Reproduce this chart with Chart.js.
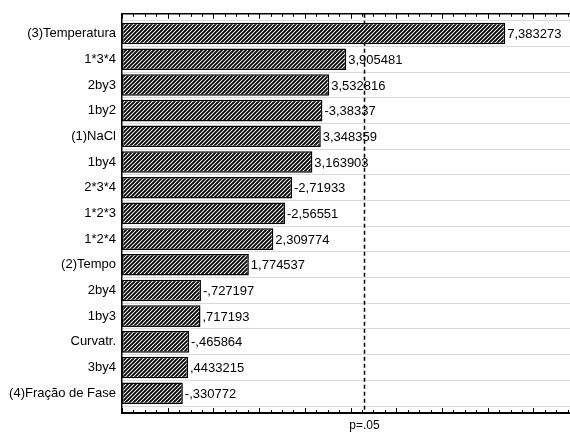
<!DOCTYPE html>
<html>
<head>
<meta charset="utf-8">
<script src="https://cdn.jsdelivr.net/npm/chart.js@4"></script>
<style>
  html, body { margin: 0; background: #fff; }
  #wrap { width: 570px; height: 433px; position: relative; }
</style>
</head>
<body>
<div id="wrap"><canvas id="chart"></canvas></div>
<script>
// data
const factors = ["(3)Temperatura", "1*3*4", "2by3", "1by2", "(1)NaCl", "1by4", "2*3*4",
  "1*2*3", "1*2*4", "(2)Tempo", "2by4", "1by3", "Curvatr.", "3by4", "(4)Fração de Fase"];
const effects = [7.383273, 3.905481, 3.532816, -3.38337, 3.348359, 3.163903, -2.71933,
  -2.56551, 2.309774, 1.774537, -0.727197, 0.717193, -0.465864, 0.4433215, -0.330772];
const effectLabels = ["7,383273", "3,905481", "3,532816", "-3,38337", "3,348359", "3,163903", "-2,71933",
  "-2,56551", "2,309774", "1,774537", "-,727197", ",717193", "-,465864", ",4433215", "-,330772"];
const pCritical = 4.303;
const pLabel = "p=.05";

const FONT = "'Liberation Sans', Arial, sans-serif";
const canvas = document.getElementById("chart");

// diagonal hatch like the statistica bars
function makeHatch() {
  const c = document.createElement("canvas");
  c.width = c.height = 4;
  const g = c.getContext("2d");
  g.fillStyle = "#fff";
  g.fillRect(0, 0, 4, 4);
  g.strokeStyle = "#000";
  g.lineWidth = 1.9;
  g.beginPath();
  g.moveTo(0, 4); g.lineTo(4, 0);
  g.moveTo(-1, 1); g.lineTo(1, -1);
  g.moveTo(3, 5); g.lineTo(5, 3);
  g.stroke();
  return canvas.getContext("2d").createPattern(c, "repeat");
}

const paretoExtras = {
  id: "paretoExtras",
  beforeDatasetsDraw(chart) {
    const { ctx, chartArea: a, scales: { x } } = chart;
    const meta = chart.getDatasetMeta(0);
    ctx.save();
    ctx.font = "13px " + FONT;
    ctx.textBaseline = "middle";
    ctx.textAlign = "left";
    meta.data.forEach((bar, i) => {
      const t = effectLabels[i];
      const w = ctx.measureText(t).width;
      ctx.fillStyle = "#fff";
      ctx.fillRect(bar.x + 1, bar.y - 7, w + 2, 14);
      ctx.fillStyle = "#000";
      ctx.fillText(t, bar.x + 2, bar.y + 1);
    });
    // critical value line
    const px = Math.round(x.getPixelForValue(pCritical)) + 0.5;
    ctx.strokeStyle = "#000";
    ctx.lineWidth = 1.5;
    ctx.setLineDash([4, 3]);
    ctx.beginPath();
    ctx.moveTo(px, a.top);
    ctx.lineTo(px, a.bottom);
    ctx.stroke();
    ctx.restore();
  },
  afterDraw(chart) {
    const { ctx, chartArea: a, scales: { x } } = chart;
    ctx.save();
    // top frame line
    ctx.strokeStyle = "#000";
    ctx.lineWidth = 1.5;
    ctx.beginPath();
    ctx.moveTo(a.left, a.top);
    ctx.lineTo(a.right, a.top);
    ctx.stroke();
    // inward ticks, major every 1, minor every .25
    ctx.lineWidth = 1;
    ctx.beginPath();
    for (let k = 0; ; k++) {
      const v = x.min + k * 0.25;
      if (v > x.max) break;
      const px = Math.round(x.getPixelForValue(v)) + 0.5;
      const len = Math.abs(v - Math.round(v)) < 1e-9 ? 5 : 3;
      ctx.moveTo(px, a.bottom);
      ctx.lineTo(px, a.bottom - len);
      ctx.moveTo(px, a.top);
      ctx.lineTo(px, a.top + len);
    }
    ctx.stroke();
    ctx.fillStyle = "#000";
    ctx.font = "12px " + FONT;
    ctx.textAlign = "center";
    ctx.textBaseline = "middle";
    ctx.fillText(pLabel, x.getPixelForValue(pCritical), a.bottom + 13);
    ctx.restore();
  }
};

new Chart(canvas, {
  type: "bar",
  data: {
    datasets: [{
      data: effects.map((e, i) => ({ x: Math.abs(e), y: i })),
      base: -1,
      backgroundColor: makeHatch(),
      borderColor: "#000",
      borderWidth: 1.5,
      borderSkipped: false,
      categoryPercentage: 1,
      barPercentage: 0.84,
    }],
  },
  options: {
    indexAxis: "y",
    responsive: true,
    maintainAspectRatio: false,
    animation: false,
    layout: { padding: { top: 12, right: 0, left: 0, bottom: 0 } },
    plugins: { legend: { display: false }, tooltip: { enabled: false } },
    scales: {
      x: {
        type: "linear",
        min: -1,
        max: 8.8,
        grid: { display: false },
        ticks: { display: false },
        border: { color: "#000", width: 2 },
        afterFit(s) { s.height = 20; },
      },
      y: {
        type: "linear",
        reverse: true,
        offset: false,
        min: -0.77,
        max: 14.77,
        afterBuildTicks(s) { s.ticks = factors.map((f, i) => ({ value: i })); },
        ticks: {
          callback: (v) => factors[v],
          color: "#000",
          font: { family: FONT, size: 13 },
          padding: 6,
        },
        grid: { color: "#b4b4b4", lineWidth: 1, drawTicks: false },
        border: { color: "#000", width: 1.5, dash: [1, 1] },
        afterFit(s) { s.width = 122; },
      },
    },
  },
  plugins: [paretoExtras],
});
</script>
</body>
</html>
